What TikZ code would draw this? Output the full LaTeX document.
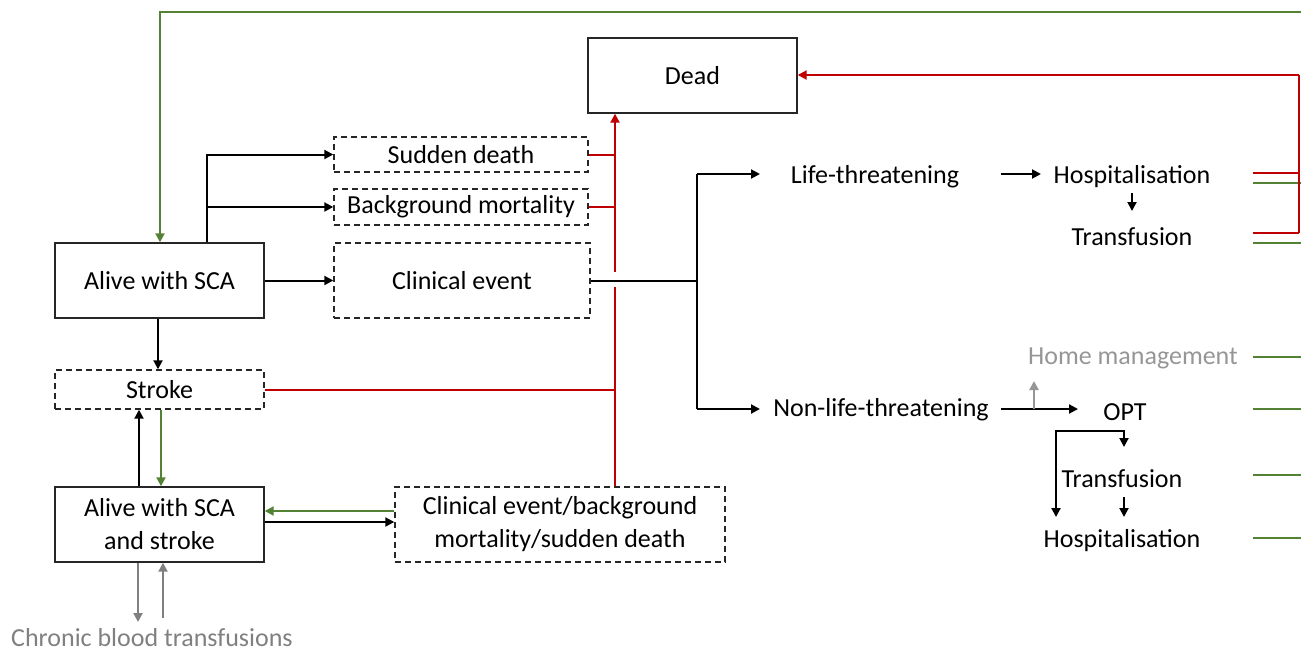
\documentclass[tikz,border=0pt]{standalone}
\usepackage{fontspec}
\setmainfont{Carlito}
\usetikzlibrary{arrows.meta}
\definecolor{cred}{RGB}{192,0,0}
\definecolor{cgreen}{RGB}{84,130,53}
\definecolor{cgray}{RGB}{128,128,128}
\definecolor{cltgray}{RGB}{150,150,150}
\begin{document}
\begin{tikzpicture}[x=0.5pt,y=-0.5pt,
  font=\fontsize{13}{15.5}\selectfont,
  tip/.style={-{Triangle[length=4.5pt,width=4.5pt]}},
  solidbox/.style={draw=black!85,line width=0.7pt,minimum width=104.5pt,minimum height=37.5pt,inner sep=0pt,align=center},
  dashbox/.style={draw=black!85,line width=0.7pt,dash pattern=on 3pt off 2pt,inner sep=0pt,align=center},
  lbl/.style={inner sep=0pt,anchor=center},
  blk/.style={line width=1pt,black},
  redl/.style={line width=1pt,cred},
  grnl/.style={line width=1pt,cgreen},
  gryl/.style={line width=1pt,cgray},
]
\useasboundingbox (0,0) rectangle (1301,653);

% boxes
\node[solidbox] (dead) at (692.5,75.5) {Dead};
\node[dashbox,minimum width=127pt,minimum height=17.5pt] (sudden) at (461,154.5) {Sudden death};
\node[dashbox,minimum width=127pt,minimum height=18pt] (bgm) at (461,207) {Background mortality};
\node[dashbox,minimum width=128pt,minimum height=37.5pt] (ce) at (462,280.5) {Clinical event};
\node[solidbox] (alive) at (159.5,280.5) {Alive with SCA};
\node[dashbox,minimum width=104.5pt,minimum height=19.5pt] (stroke) at (159.5,389.5) {Stroke};
\node[solidbox] (alives) at (159.5,524.5) {Alive with SCA\\[1pt]and stroke};
\node[dashbox,minimum width=165pt,minimum height=37.5pt] (ceb) at (560,524.5) {Clinical event/background\\[1pt]mortality/sudden death};

% text nodes
\node[lbl] (lt) at (875,177) {Life-threatening};
\node[lbl] (hosp1) at (1132,177) {Hospitalisation};
\node[lbl] (tr1) at (1132,237) {Transfusion};
\node[lbl] (nlt) at (881,410) {Non-life-threatening};
\node[lbl,text=cltgray] (home) at (1133,358) {Home management};
\node[lbl] (opt) at (1125,412) {OPT};
\node[lbl] (tr2) at (1122,479) {Transfusion};
\node[lbl] (hosp2) at (1122,541) {Hospitalisation};
\node[lbl,text=cgray] (chronic) at (152,638) {Chronic blood transfusions};

% coordinates
\coordinate (jt) at (697,174);
\coordinate (jb) at (697,409);
\coordinate (ltend) at (760,174);
\coordinate (nltend) at (760,409);
\coordinate (a1s) at (1001,174);
\coordinate (a1e) at (1041,174);
\coordinate (a2s) at (1132,193);
\coordinate (a2e) at (1132,211);
\coordinate (a3s) at (1001,409);
\coordinate (a3e) at (1078,409);
\coordinate (hm1) at (1034,409);
\coordinate (hm2) at (1034,381);
\coordinate (ob) at (1090,431);
\coordinate (obre) at (1124,447);
\coordinate (oble) at (1056,517);
\coordinate (t2s) at (1124,497);
\coordinate (t2e) at (1124,517);
\coordinate (rtop) at (1299,75);
\coordinate (rbot) at (1299,233);
\coordinate (gtop) at (1301,12);
\coordinate (cbd) at (138,622);
\coordinate (cbu) at (163,618);

% black connectors
\draw[blk] (207,0 |- alive.north) -- (207,0 |- bgm.west);
\draw[blk,tip] (207,0 |- bgm.west) |- (sudden.west);
\draw[blk,tip] (207,0 |- bgm.west) -- (bgm.west);
\draw[blk,tip] (alive) -- (ce);
\draw[blk,tip] (158,0 |- alive.south) -- (158,0 |- stroke.north);
\draw[blk,tip] (139,0 |- alives.north) -- (139,0 |- stroke.south);
\draw[blk,tip] (alives.east |- 0,522) -- (ceb.west |- 0,522);
\draw[blk] (ce.east) -- (jt |- ce.east);
\draw[blk] (jt) -- (jb);
\draw[blk,tip] (jt) -- (ltend);
\draw[blk,tip] (jb) -- (nltend);
\draw[blk,tip] (a1s) -- (a1e);
\draw[blk,tip] (a2s) -- (a2e);
\draw[blk,tip] (a3s) -- (a3e);
\draw[blk,tip] (ob) -| (oble);
\draw[blk,tip] (ob) -| (obre);
\draw[blk,tip] (t2s) -- (t2e);

% grey
\draw[gryl,tip,cltgray] (hm1) -- (hm2);
\draw[gryl,tip] (138,0 |- alives.south) -- (cbd);
\draw[gryl,tip] (cbu) -- (163,0 |- alives.south);

% green
\draw[grnl,tip] (161,0 |- stroke.south) -- (161,0 |- alives.north);
\draw[grnl,tip] (ceb.west |- 0,511) -- (alives.east |- 0,511);
\draw[grnl,tip] (gtop) -| (160,0 |- alive.north);
\foreach \yy in {183,243,357,409,475,538} {
  \draw[grnl] (1253,\yy) -- (1301,\yy);
}

% red
\draw[redl,tip] (615,272) -- (615,0 |- dead.south);
\draw[redl] (615,0 |- ceb.north) -- (615,287);
\draw[redl] (sudden.east) -- (615,0 |- sudden.east);
\draw[redl] (bgm.east) -- (615,0 |- bgm.east);
\draw[redl] (stroke.east) -- (615,0 |- stroke.east);
\draw[redl,tip] (rtop) -- (dead.east |- rtop);
\draw[redl] (rtop) -- (rbot);
\draw[redl] (1253,173) -- (1299,173);
\draw[redl] (1253,233) -- (rbot);
\end{tikzpicture}
\end{document}
